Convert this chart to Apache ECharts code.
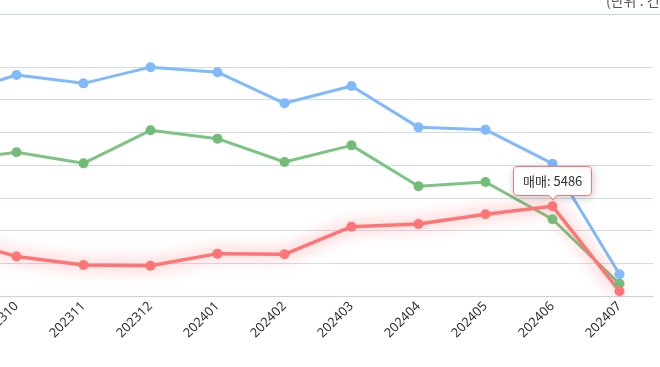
<!DOCTYPE html>
<html>
<head>
<meta charset="utf-8">
<script src="https://cdn.jsdelivr.net/npm/echarts@6/dist/echarts.min.js"></script>
<style>
    html, body { margin: 0; padding: 0; width: 660px; height: 367px; overflow: hidden; background: #fff; }
    #wrap { position: relative; width: 660px; height: 367px; overflow: hidden; }
    #chart { position: absolute; left: -150px; top: 0; width: 810px; height: 367px; }
</style>
</head>
<body>
<div id="wrap"><div id="chart"></div></div>
<script>
// 월별 거래 건수
const months = ['202309', '202310', '202311', '202312', '202401', '202402', '202403', '202404', '202405', '202406', '202407'];
const jeonseData = [12230, 13510, 13000, 13990, 13680, 11780, 12840, 10310, 10170, 8090, 1330];
const wolseData = [8250, 8790, 8110, 10130, 9620, 8190, 9210, 6710, 6970, 4690, 750];
const maemaeData = [3550, 2420, 1900, 1850, 2590, 2550, 4240, 4400, 5000, 5486, 290];
const yTicks = { min: 0, max: 14000, interval: 2000 };
const unitText = '(단위 : 건)';

const font = '"Noto Sans CJK KR", "Noto Sans", sans-serif';
const chart = echarts.init(document.getElementById('chart'));

let option = {
    animation: false,
    textStyle: { fontFamily: font },
    graphic: [{
        type: 'line',
        shape: { x1: 0, y1: 14.5, x2: 810, y2: 14.5 },
        style: { stroke: '#c6d3e1', lineWidth: 1 },
    }, {
        type: 'text',
        left: 756,
        top: -6,
        style: { text: unitText, fill: '#555', font: '14px ' + font },
    }],
    tooltip: {
        trigger: 'item',
        position: 'top',
        backgroundColor: '#fff',
        borderWidth: 1,
        padding: [4, 9],
        extraCssText: 'margin-top: 5px;',
        textStyle: { color: '#333', fontSize: 13, fontFamily: font },
        formatter: (p) => p.seriesName + ': ' + p.value,
    },
    grid: {
        left: 66,
        right: 7,
        top: 67,
        bottom: 71,
    },
    xAxis: {
        type: 'category',
        data: months,
        boundaryGap: true,
        axisLine: { lineStyle: { color: '#c6d3e1' } },
        axisTick: { alignWithLabel: true, length: 5, lineStyle: { color: '#c6d3e1' } },
        axisLabel: { rotate: 45, color: '#333', fontSize: 13, fontFamily: '"Noto Sans", sans-serif', margin: 8, interval: 0 },
    },
    yAxis: {
        type: 'value',
        min: yTicks.min,
        max: yTicks.max,
        interval: yTicks.interval,
        axisLine: { show: false },
        axisTick: { show: false },
        axisLabel: { color: '#333', fontSize: 12 },
        splitLine: { lineStyle: { color: '#d3dde8' } },
    },
    series: [
        {
            name: '전세',
            type: 'line',
            data: jeonseData,
            symbol: 'circle',
            symbolSize: 10,
            itemStyle: { color: '#80b9fd' },
            lineStyle: { width: 3, color: '#80b9fd' },
        },
        {
            name: '월세',
            type: 'line',
            data: wolseData,
            symbol: 'circle',
            symbolSize: 10,
            itemStyle: { color: '#72bc78' },
            lineStyle: { width: 3, color: '#7cc482' },
        },
        {
            name: '매매',
            type: 'line',
            data: maemaeData,
            symbol: 'circle',
            symbolSize: 10,
            z: 3,
            itemStyle: { color: '#ff7575' },
            lineStyle: {
                width: 3.5,
                color: '#ff7575',
                shadowColor: 'rgba(255, 80, 80, 0.8)',
                shadowBlur: 16,
            },
        },
    ],
};
chart.setOption(option);

// 6월 매매 툴팁 고정 표시
chart.dispatchAction({
    type: 'showTip',
    seriesIndex: 2,
    dataIndex: months.indexOf('202406'),
});
</script>
</body>
</html>
